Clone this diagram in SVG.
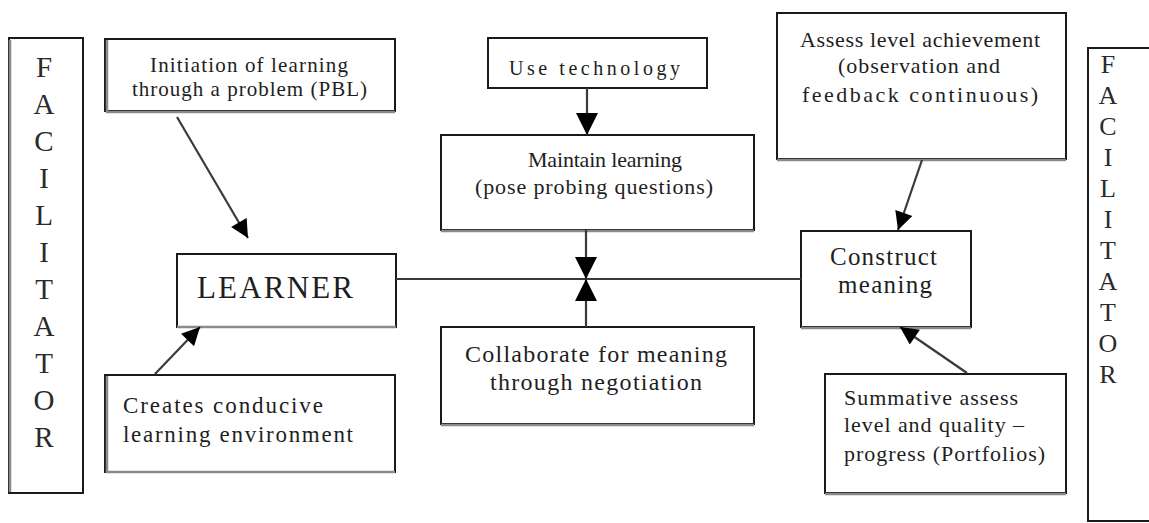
<svg xmlns="http://www.w3.org/2000/svg" width="1149" height="523" viewBox="0 0 1149 523">
  <style>
    .box { fill: #ffffff; stroke: #1a1a1a; stroke-width: 2; }
    .shade { stroke: #8a8a8a; stroke-width: 2.5; fill: none; }
    .t { font-family: "Liberation Serif", "Times New Roman", serif; fill: #1e1e1e; }
    .fac { font-family: "Liberation Serif", "Times New Roman", serif; fill: #2a2a2a; text-anchor: middle; }
    .wire { stroke: #3a3a3a; stroke-width: 2.2; fill: none; }
  </style>
  <defs>
    <marker id="head" viewBox="0 0 10 10" refX="10" refY="5" markerWidth="22" markerHeight="23" markerUnits="userSpaceOnUse" orient="auto">
      <path d="M0,0 L10,5 L0,10 z" fill="#000"/>
    </marker>
    <marker id="headSm" viewBox="0 0 10 10" refX="10" refY="5" markerWidth="21" markerHeight="18" markerUnits="userSpaceOnUse" orient="auto">
      <path d="M0,0 L10,5 L0,10 z" fill="#000"/>
    </marker>
  </defs>
  <rect width="1149" height="523" fill="#ffffff"/>

  <!-- left facilitator column -->
  <g id="facilitator-left">
    <rect class="box" x="9" y="38" width="74" height="455"/>
    <line class="shade" x1="10" y1="40" x2="10" y2="492"/>
    <g class="t fac" font-size="29" fill="#333">
      <text x="44" y="77">F</text>
      <text x="44" y="114">A</text>
      <text x="44" y="151">C</text>
      <text x="44" y="188">I</text>
      <text x="44" y="225">L</text>
      <text x="44" y="262">I</text>
      <text x="44" y="299">T</text>
      <text x="44" y="336">A</text>
      <text x="44" y="373">T</text>
      <text x="44" y="410">O</text>
      <text x="44" y="447">R</text>
    </g>
  </g>

  <!-- right facilitator column -->
  <g id="facilitator-right">
    <rect class="box" x="1088" y="48" width="80" height="473"/>
    <g class="t fac" font-size="26" fill="#111">
      <text x="1108" y="73">F</text>
      <text x="1108" y="104">A</text>
      <text x="1108" y="135">C</text>
      <text x="1108" y="166">I</text>
      <text x="1108" y="197">L</text>
      <text x="1108" y="228">I</text>
      <text x="1108" y="259">T</text>
      <text x="1108" y="290">A</text>
      <text x="1108" y="321">T</text>
      <text x="1108" y="352">O</text>
      <text x="1108" y="383">R</text>
    </g>
  </g>

  <g id="initiation">
    <rect class="box" x="105" y="39" width="290" height="72" stroke-width="3"/>
    <polyline class="shade" points="107,40 107,112 395,112"/>
    <text class="t" x="150" y="72" font-size="21" textLength="198">Initiation of learning</text>
    <text class="t" x="132" y="96" font-size="21" textLength="235">through a problem (PBL)</text>
  </g>

  <g id="use-technology">
    <rect class="box" x="488" y="38" width="219" height="50"/>
    <text class="t" x="509" y="75" font-size="20" textLength="171">Use technology</text>
  </g>

  <g id="maintain">
    <rect class="box" x="441" y="135" width="313" height="95"/>
    <line class="shade" x1="441" y1="231" x2="754" y2="231"/>
    <text class="t" x="528" y="167" font-size="22" textLength="154">Maintain learning</text>
    <text class="t" x="475" y="194" font-size="22" textLength="238">(pose probing questions)</text>
  </g>

  <g id="assess">
    <rect class="box" x="777" y="13" width="289" height="146"/>
    <line class="shade" x1="777" y1="160" x2="1066" y2="160" stroke-width="3"/>
    <text class="t" x="800" y="47" font-size="22" textLength="240">Assess level achievement</text>
    <text class="t" x="838" y="73" font-size="22" textLength="162">(observation and</text>
    <text class="t" x="802" y="102" font-size="22" textLength="236">feedback continuous)</text>
  </g>

  <g id="learner">
    <rect class="box" x="177" y="254" width="219" height="73"/>
    <line class="shade" x1="177" y1="327" x2="396" y2="327"/>
    <text class="t" x="197" y="298" font-size="31" textLength="156" fill="#000">LEARNER</text>
  </g>

  <g id="construct">
    <rect class="box" x="801" y="231" width="170" height="96"/>
    <line class="shade" x1="801" y1="328" x2="971" y2="328"/>
    <text class="t" x="830" y="265" font-size="25" textLength="107">Construct</text>
    <text class="t" x="838" y="293" font-size="25" textLength="94">meaning</text>
  </g>

  <g id="collaborate">
    <rect class="box" x="441" y="327" width="313" height="97"/>
    <line class="shade" x1="441" y1="425" x2="754" y2="425"/>
    <text class="t" x="465" y="362" font-size="24" textLength="262">Collaborate for meaning</text>
    <text class="t" x="490" y="390" font-size="24" textLength="212">through negotiation</text>
  </g>

  <g id="creates">
    <rect class="box" x="105" y="375" width="290" height="97"/>
    <polyline class="shade" points="107,376 107,472 395,472"/>
    <text class="t" x="123" y="413" font-size="23" textLength="200">Creates conducive</text>
    <text class="t" x="123" y="442" font-size="23" textLength="230">learning environment</text>
  </g>

  <g id="summative">
    <rect class="box" x="825" y="374" width="241" height="119"/>
    <line class="shade" x1="825" y1="494" x2="1066" y2="494"/>
    <text class="t" x="844" y="405" font-size="22" textLength="174">Summative assess</text>
    <text class="t" x="844" y="432" font-size="22" textLength="180">level and quality –</text>
    <text class="t" x="844" y="461" font-size="22" textLength="201">progress (Portfolios)</text>
  </g>

  <!-- connectors -->
  <g id="connectors">
    <line class="wire" x1="396" y1="279" x2="801" y2="279"/>
    <line class="wire" x1="587" y1="88" x2="587" y2="135" marker-end="url(#head)"/>
    <line class="wire" x1="586" y1="230" x2="586" y2="279" marker-end="url(#head)"/>
    <line class="wire" x1="586" y1="327" x2="586" y2="279" marker-end="url(#head)"/>
    <line class="wire" x1="177" y1="117" x2="248" y2="238" marker-end="url(#headSm)"/>
    <line class="wire" x1="155" y1="374" x2="200" y2="327" marker-end="url(#headSm)"/>
    <line class="wire" x1="922" y1="160" x2="898" y2="230" marker-end="url(#headSm)"/>
    <line class="wire" x1="967" y1="373" x2="900" y2="327" marker-end="url(#headSm)"/>
  </g>
</svg>
